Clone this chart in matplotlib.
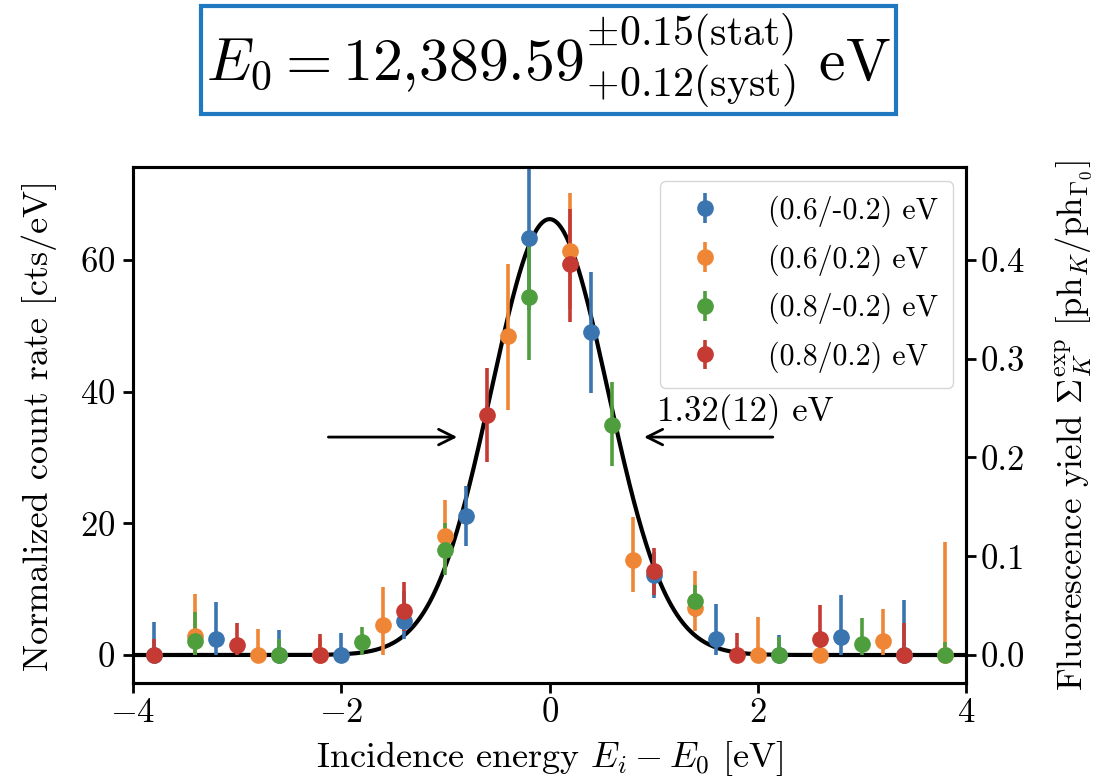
import numpy as np
import matplotlib
matplotlib.use('Agg')
import matplotlib.pyplot as plt

plt.rcParams['font.family'] = 'serif'
plt.rcParams['font.serif'] = ['cmr10']
plt.rcParams['mathtext.fontset'] = 'cm'
plt.rcParams['axes.formatter.use_mathtext'] = True
plt.rcParams['axes.unicode_minus'] = True

# data: energy offsets, count rates, lower/upper errors
labels = ['(0.6/-0.2) eV', '(0.6/0.2) eV', '(0.8/-0.2) eV', '(0.8/0.2) eV']
colors = ['#3a75b0', '#ef8636', '#4f9e3d', '#c53a32']

x_blue = [-3.8, -3.2, -2.6, -2.0, -1.4, -0.8, -0.2, 0.4, 1.0, 1.6, 2.2, 2.8, 3.4]
y_blue = [0.0, 2.5, 0.0, 0.0, 5.2, 21.1, 63.4, 49.0, 12.2, 2.4, 0.0, 2.8, 0.0]
lo_blue = [0.0, 2.5, 0.0, 0.0, 2.7, 4.5, 11.0, 9.2, 3.6, 2.4, 0.0, 2.8, 0.0]
up_blue = [5.0, 5.6, 3.8, 3.3, 4.5, 4.6, 12.0, 9.2, 3.5, 5.3, 3.0, 6.3, 8.3]

x_orange = [-3.4, -2.8, -2.2, -1.6, -1.0, -0.4, 0.2, 0.8, 1.4, 2.0, 2.6, 3.2, 3.8]
y_orange = [2.9, 0.0, 0.0, 4.5, 18.1, 48.4, 61.3, 14.4, 7.1, 0.0, 0.0, 2.2, 0.0]
lo_orange = [2.9, 0.0, 0.0, 4.5, 5.0, 11.2, 8.8, 4.8, 3.4, 0.0, 0.0, 2.2, 0.0]
up_orange = [6.4, 4.0, 2.5, 5.8, 5.5, 11.0, 8.8, 6.6, 5.7, 5.8, 3.0, 4.8, 17.2]

x_green = [-3.4, -2.6, -1.8, -1.0, -0.2, 0.6, 1.4, 2.2, 3.0, 3.8]
y_green = [2.1, 0.0, 1.9, 16.0, 54.4, 35.0, 8.2, 0.0, 1.7, 0.0]
lo_green = [2.1, 0.0, 1.9, 3.8, 9.6, 6.3, 2.5, 0.0, 1.7, 0.0]
up_green = [4.5, 2.4, 2.3, 4.0, 9.6, 6.4, 2.4, 2.8, 3.9, 2.0]

x_red = [-3.8, -3.0, -2.2, -1.4, -0.6, 0.2, 1.0, 1.8, 2.6, 3.4]
y_red = [0.0, 1.5, 0.0, 6.7, 36.5, 59.4, 12.8, 0.0, 2.4, 0.0]
lo_red = [0.0, 1.5, 0.0, 3.1, 7.2, 8.8, 3.7, 0.0, 2.4, 0.0]
up_red = [2.5, 3.3, 3.2, 4.4, 7.1, 8.4, 3.5, 3.4, 5.2, 4.9]

# gaussian fit parameters
amp = 66.2
center = 0.0
fwhm = 1.32
ratio = 150.0  # count rate per unit fluorescence yield

series = [
    (x_blue, y_blue, lo_blue, up_blue),
    (x_orange, y_orange, lo_orange, up_orange),
    (x_green, y_green, lo_green, up_green),
    (x_red, y_red, lo_red, up_red),
]

fig = plt.figure(figsize=(11.17, 7.81), dpi=100)
ax = fig.add_axes([0.119, 0.1255, 0.746, 0.6605])

for (xs, ys, lo, up), c, lab in zip(series, colors, labels):
    ax.errorbar(xs, ys, yerr=[lo, up], fmt='o', color=c, ms=11, elinewidth=2.6,
                capsize=0, label=lab)

sigma = fwhm / (2 * np.sqrt(2 * np.log(2)))
xf = np.linspace(-4, 4, 600)
ax.plot(xf, amp * np.exp(-(xf - center) ** 2 / (2 * sigma ** 2)), color='k', lw=3, zorder=1.5)

ax.annotate('', xy=(-0.86, amp / 2), xytext=(-2.15, amp / 2),
            arrowprops=dict(arrowstyle='->', lw=2, color='k', mutation_scale=28))
ax.annotate('', xy=(0.88, amp / 2), xytext=(2.17, amp / 2),
            arrowprops=dict(arrowstyle='->', lw=2, color='k', mutation_scale=28))
ax.text(1.03, 35.5, '1.32(12) eV', fontsize=25, va='baseline', ha='left')

ax.set_xlim(-4, 4)
ax.set_ylim(-4.25, 74.1)
ax.set_xticks([-4, -2, 0, 2, 4])
ax.set_yticks([0, 20, 40, 60])
ax.set_xlabel(r'Incidence energy $E_i - E_0$ [eV]', fontsize=26, labelpad=7)
ax.set_ylabel('Normalized count rate [cts/eV]', fontsize=26, labelpad=16)
ax.tick_params(labelsize=25, width=2, length=7)
ax.tick_params(axis='y', pad=6)
for sp in ax.spines.values():
    sp.set_linewidth(2.2)

ax2 = ax.twinx()
ax2.set_ylim(-4.25 / ratio, 74.1 / ratio)
ax2.set_yticks([0.0, 0.1, 0.2, 0.3, 0.4])
ax2.set_yticklabels(['0.0', '0.1', '0.2', '0.3', '0.4'])
ax2.set_ylabel(r'Fluorescence yield $\Sigma_K^{\mathrm{exp}}$ [ph$_K$/ph$_{\Gamma_0}$]',
               fontsize=25, labelpad=20)
ax2.tick_params(labelsize=25, width=2, length=7)
for sp in ax2.spines.values():
    sp.set_linewidth(2.2)

leg = ax.legend(loc='upper right', fontsize=21.5, handletextpad=1.1, borderpad=0.5,
                labelspacing=0.58, borderaxespad=0.45)

fig.text(0.491, 0.923,
         r'$E_0 = 12{,}389.59^{\pm 0.15(\mathrm{stat})}_{+0.12(\mathrm{syst})}\ \mathrm{eV}$',
         fontsize=43, ha='center', va='center',
         bbox=dict(boxstyle='square,pad=0.08', fc='white', ec='#1f78c0', lw=3))

fig.savefig('out.png', dpi=100)
